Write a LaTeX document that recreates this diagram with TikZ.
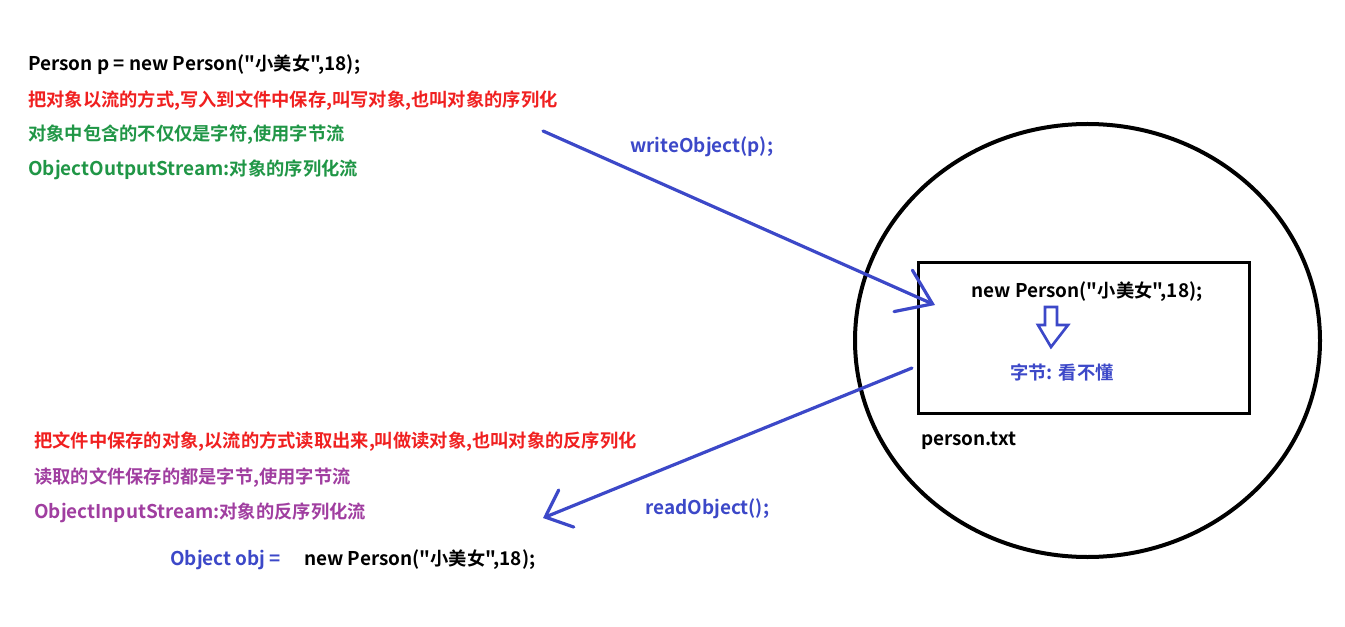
\documentclass[tikz,border=0pt]{standalone}
\usepackage{fontspec}
\newfontfamily\cjkfont{Noto Sans CJK SC}[BoldFont={Noto Sans CJK SC Bold}, Ligatures=TeXOff]
\newcommand{\zh}[1]{{\fontsize{13.7}{16}\selectfont #1}}
\usetikzlibrary{positioning,arrows.meta}

\definecolor{serred}{RGB}{240,32,32}
\definecolor{sergreen}{RGB}{32,150,70}
\definecolor{serpurple}{RGB}{160,62,160}
\definecolor{serblue}{RGB}{60,72,200}

\begin{document}
\begin{tikzpicture}[
  x=0.75pt, y=-0.75pt,
  every node/.style={font=\cjkfont\bfseries\fontsize{14.2}{17}\selectfont, inner sep=0pt, anchor=west},
  codeline/.style={text=black},
  redline/.style={text=serred},
  greenline/.style={text=sergreen},
  purpleline/.style={text=serpurple},
  blueline/.style={text=serblue},
  arr/.style={serblue, line width=2.4pt, line cap=round}
]
\useasboundingbox (0,0) rectangle (1345,627);

% serialisation side
\node[codeline] (newp) at (28,65) {Person p = new Person("\zh{小美女}",18);};
\node[redline] (wdesc) at (28,101) {\zh{把对象以流的方式,写入到文件中保存,叫写对象,也叫对象的序列化}};
\node[greenline] (wbytes) at (28,135) {\zh{对象中包含的不仅仅是字符,使用字节流}};
\node[greenline] (oos) at (28,170) {ObjectOutputStream:\zh{对象的序列化流}};
\node[blueline] (wcall) at (630,147) {writeObject(p);};

% the file
\draw[line width=3pt] (1087.5,340.5) ellipse [x radius=232.5, y radius=216.5];
\node[draw, line width=2.6pt, minimum width=248pt, minimum height=113pt, anchor=north west] (file) at (917,261) {};
\node[codeline, anchor=center] (stored) at (1087,292) {new Person("\zh{小美女}",18);};
\node[blueline, anchor=center] (bytes) at (1062,373) {\zh{字节}: \zh{看不懂}};
\node[codeline] (fname) at (921,441) {person.txt};
\draw[serblue, line width=2pt, line join=miter]
  (1045,307) -- (1057,307) -- (1057,325) -- (1068,325) -- (1051,347)
  -- (1038,325) -- (1045,325) -- cycle;

% deserialisation side
\node[redline] (rdesc) at (34,442) {\zh{把文件中保存的对象,以流的方式读取出来,叫做读对象,也叫对象的反序列化}};
\node[purpleline] (rbytes) at (34,478) {\zh{读取的文件保存的都是字节,使用字节流}};
\node[purpleline] (ois) at (34,513) {ObjectInputStream:\zh{对象的反序列化流}};
\node[blueline] (rcall) at (645,509) {readObject();};
\node[blueline] (objvar) at (170,560) {Object obj =};
\node[codeline] (newobj) at (304,560) {new Person("\zh{小美女}",18);};

% arrows
\coordinate (wstart) at (543,131);
\coordinate (wend) at (935,305);
\coordinate (rstart) at (912,368);
\coordinate (rend) at (543,518);
\draw[arr, -{Straight Barb[length=24pt, width=34pt, line cap=round]}] (wstart) -- (wend);
\draw[arr, -{Straight Barb[length=17pt, width=30pt, line cap=round]}] (rstart) -- (rend);
\end{tikzpicture}
\end{document}
